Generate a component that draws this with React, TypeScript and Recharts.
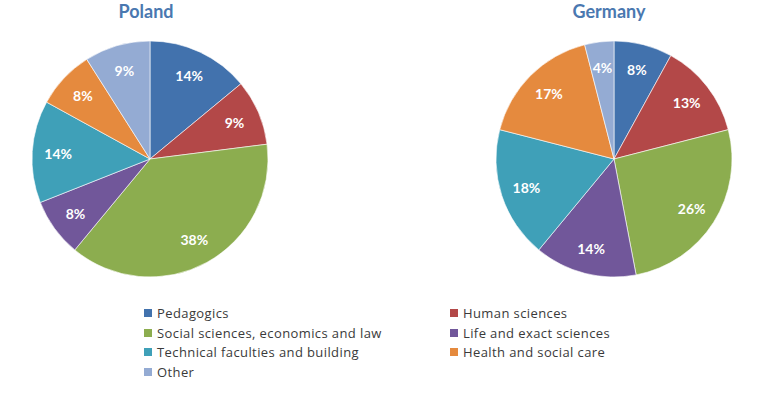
import { Pie, PieChart, Cell } from "recharts";

const categories = [
  "Pedagogics",
  "Human sciences",
  "Social sciences, economics and law",
  "Life and exact sciences",
  "Technical faculties and building",
  "Health and social care",
  "Other",
];
const polandShares = [14, 9, 38, 8, 14, 8, 9];
const germanyShares = [8, 13, 26, 14, 18, 17, 4];
const countries = ["Poland", "Germany"];

const colors = ["#4272ad", "#b34848", "#8cad4f", "#71579a", "#3fa0b8", "#e58a3e", "#94abd3"];
const FONT = "Lato, 'Open Sans', sans-serif";
const RAD = Math.PI / 180;

const toRows = (vals: number[]) => categories.map((name, i) => ({ name, value: vals[i] }));

function SliceLabel(props: any) {
  const { cx, cy, midAngle, outerRadius, value } = props;
  const r = outerRadius * 0.78;
  const x = cx + r * Math.cos(-midAngle * RAD);
  const y = cy + r * Math.sin(-midAngle * RAD);
  return (
    <text
      x={x}
      y={y}
      fill="#fff"
      textAnchor="middle"
      dominantBaseline="central"
      fontSize={14}
      fontWeight={700}
      fontFamily={FONT}
    >
      {`${value}%`}
    </text>
  );
}

export default function App() {
  const series = [polandShares, germanyShares];
  const centers = [150, 614];
  const titleX = [146, 609];
  return (
    <div
      style={{
        position: "absolute",
        left: 0,
        top: 0,
        width: 767,
        height: 395,
        background: "#fff",
        fontFamily: FONT,
      }}
    >
      {countries.map((c, i) => (
        <div
          key={c}
          style={{
            position: "absolute",
            top: 0,
            left: titleX[i] - 100,
            width: 200,
            textAlign: "center",
            color: "#4a78b0",
            fontWeight: 700,
            fontSize: 18,
          }}
        >
          {c}
        </div>
      ))}
      <div style={{ position: "absolute", left: 0, top: 0 }}>
        <PieChart width={767} height={300} margin={{ top: 0, right: 0, bottom: 0, left: 0 }}>
          {series.map((vals, i) => (
            <Pie
              key={countries[i]}
              data={toRows(vals)}
              dataKey="value"
              nameKey="name"
              cx={centers[i]}
              cy={159}
              outerRadius={118}
              startAngle={90}
              endAngle={-270}
              stroke="#fff"
              strokeWidth={0.6}
              label={SliceLabel}
              labelLine={false}
              isAnimationActive={false}
            >
              {vals.map((_, j) => (
                <Cell key={j} fill={colors[j]} />
              ))}
            </Pie>
          ))}
        </PieChart>
      </div>
      {categories.map((name, i) => {
        const col = i % 2;
        const row = Math.floor(i / 2);
        return (
          <div
            key={name}
            style={{
              position: "absolute",
              left: col === 0 ? 144 : 450,
              top: 304 + row * 19.6,
              display: "flex",
              alignItems: "center",
              fontSize: 13,
              letterSpacing: 0.4,
              fontFamily: "'Open Sans', sans-serif",
              color: "#3a3a3a",
              whiteSpace: "nowrap",
            }}
          >
            <span
              style={{
                display: "inline-block",
                width: 8,
                height: 8,
                background: colors[i],
                marginRight: 5,
              }}
            />
            {name}
          </div>
        );
      })}
    </div>
  );
}
